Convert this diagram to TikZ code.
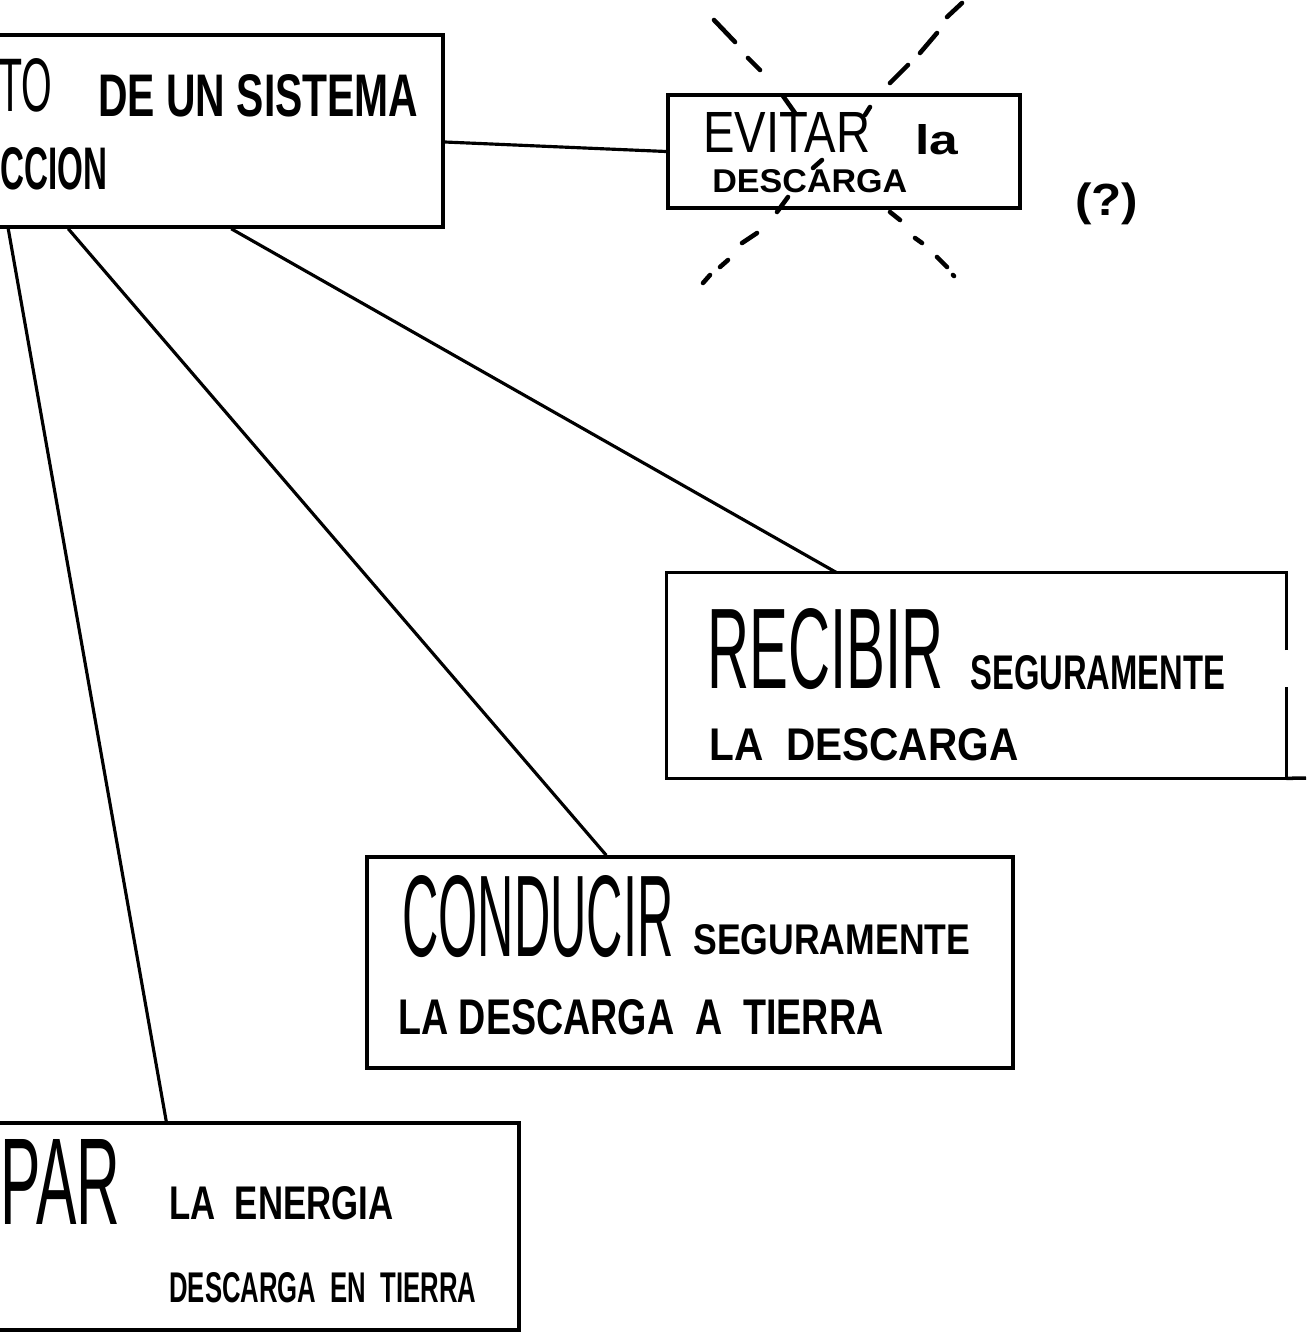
\documentclass[tikz,border=0pt]{standalone}
\usepackage{fontspec}
\setmainfont{Liberation Sans}
\usepackage{graphicx}
\newlength\px
\setlength\px{0.02cm}
\newcommand\hw[3]{\resizebox{#1\px}{#2\px}{#3}}
\newcommand\hwb[3]{\resizebox{#1\px}{#2\px}{\bfseries #3}}
\begin{document}
\begin{tikzpicture}[x=0.02cm,y=-0.02cm,
  boxshape/.style={draw, line width=2pt, inner sep=0pt},
  edgeline/.style={line width=2pt},
  conn/.style={line width=1.8pt},
  txt/.style={anchor=south west, inner sep=0pt},
  xdash/.style={line width=2.6pt, line cap=round}]
\useasboundingbox (0,0) rectangle (1306,1339);
\fill[white] (0,0) rectangle (1306,1339);
\clip (0,0) rectangle (1306,1339);

% boxes
\node[boxshape, minimum width=463\px, minimum height=192\px] (top) at (211.5,131) {};
\node[boxshape, minimum width=352\px, minimum height=113\px] (evitar) at (844,151.5) {};
\node[inner sep=0pt, minimum width=619\px, minimum height=205\px] (recibir) at (976.5,675.5) {};
\draw[edgeline] ([yshift=25.5\px]recibir.east) -- (recibir.north east) -- (recibir.north west)
  -- (recibir.south west) -- (recibir.south east) -- ([yshift=-11.5\px]recibir.east);
\coordinate (botext) at (1306,778);
\draw[edgeline] (recibir.south east) -- (botext);
\node[boxshape, minimum width=646\px, minimum height=211\px] (conducir) at (690,962.5) {};
\node[boxshape, minimum width=539\px, minimum height=207\px] (par) at (249.5,1226.5) {};

% connectors
\draw[conn] ([xshift=30\px]top.south west) -- ([xshift=188\px]par.north west);
\draw[conn] ([xshift=90\px]top.south west) -- ([xshift=241\px]conducir.north west);
\draw[conn] ([xshift=253\px]top.south west) -- ([xshift=170\px]recibir.north west);
\draw[conn] ([yshift=-11\px]top.east) -- (evitar.west);

% crossing dashes over EVITAR
\draw[xdash] (714,20) -- (735,42) (748,58) -- (760,70) (783,96) -- (795,113)
  (890,212) -- (900,220) (915,238) -- (922,243) (937,257) -- (947,267) (953,275) -- (954,276);
\draw[xdash] (962,3) -- (947,17) (937,33) -- (920,53) (908,65) -- (890,83)
  (870,107) -- (865,115) (822,160) -- (813,168) (788,197) -- (777,212)
  (757,233) -- (742,243) (728,260) -- (720,267) (710,275) -- (703,283);

% texts
\node[txt] (t1) at (-2,113) {\hw{54}{53}{TO}};
\node[txt] (t2) at (98,117) {\hwb{320}{42}{DE UN SISTEMA}};
\node[txt] (t3) at (0,190) {\hwb{107}{42}{CCION}};
\node[txt] (e1) at (703,153) {\hw{167}{40}{EVITAR}};
\node[txt] (e2) at (915,155) {\hwb{43}{30}{la}};
\node[txt] (e3) at (712,193) {\hwb{195}{23}{DESCARGA}};
\node[txt] (q) at (1075,225) {\resizebox*{63\px}{42\px}{\bfseries (?)}};
\node[txt] (r1) at (707,690) {\hw{236}{80}{RECIBIR}};
\node[txt] (r2) at (970,690) {\hwb{255}{34}{SEGURAMENTE}};
\node[txt] (r3) at (709,761) {\hwb{309}{32}{LA\ \ DESCARGA}};
\node[txt] (c1) at (402,958) {\hw{271}{81}{CONDUCIR}};
\node[txt] (c2) at (693,955) {\hwb{277}{30}{SEGURAMENTE}};
\node[txt] (c3) at (398,1035) {\hwb{485}{35}{LA DESCARGA\ \ A\ \ TIERRA}};
\node[txt] (p1) at (0,1225) {\hw{120}{85}{PAR}};
\node[txt] (p2) at (169,1220) {\hwb{224}{33}{LA\ \ ENERGIA}};
\node[txt] (p3) at (169,1303) {\hwb{307}{30}{DESCARGA\ \ EN\ \ TIERRA}};
\end{tikzpicture}
\end{document}
